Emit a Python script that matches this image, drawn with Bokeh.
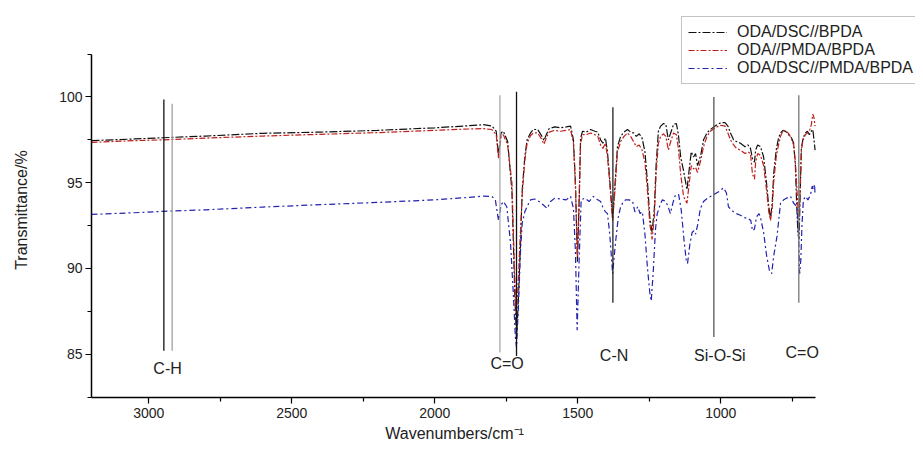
from bokeh.plotting import figure
from bokeh.models import Range1d, FixedTicker, Legend, LegendItem, ColumnDataSource
from bokeh.core.properties import value
from bokeh.embed import file_html
from bokeh.resources import INLINE

# ---------------- data ----------------
series_names = ["ODA/DSC//BPDA", "ODA//PMDA/BPDA", "ODA/DSC//PMDA/BPDA"]

wn_black = [3200, 3050, 2950, 2800, 2600, 2400, 2200, 2000, 1900, 1830, 1800, 1785, 1777, 1768, 1760,
            1745, 1730, 1720, 1714, 1708, 1700, 1694, 1685, 1677, 1665, 1655, 1640, 1625, 1618, 1610,
            1600, 1580, 1560, 1540, 1525, 1515, 1508, 1501, 1495, 1490, 1483, 1470, 1455, 1440, 1430,
            1420, 1412, 1403, 1396, 1388, 1378, 1370, 1361, 1350, 1338, 1326, 1315, 1305, 1295, 1285,
            1275, 1265, 1256, 1248, 1240, 1232, 1226, 1218, 1210, 1200, 1192, 1183, 1175, 1165, 1155,
            1148, 1140, 1130, 1118, 1110, 1103, 1095, 1088, 1081, 1070, 1060, 1048, 1036, 1020, 1000,
            985, 975, 966, 955, 945, 931, 915, 905, 896, 889, 882, 878, 871, 861, 850, 840, 832, 826,
            820, 815, 806, 798, 791, 782, 774, 767, 760, 752, 745, 739, 735, 730, 726, 722, 718, 712,
            704, 697, 690, 683, 678, 674, 670]
t_black = [97.45, 97.55, 97.62, 97.72, 97.88, 97.95, 98.05, 98.2, 98.3, 98.38, 98.3, 98.0, 96.6, 97.9, 98.0,
           97.4, 94.5, 88.5, 85.9, 88.0, 91.5, 94.6, 96.5, 97.5, 97.9, 98.1, 98.1, 97.7, 97.45, 97.8,
           98.15, 98.25, 98.2, 98.25, 98.3, 97.5, 95.0, 90.4, 94.0, 97.6, 98.0, 97.95, 98.1, 98.0, 97.95,
           97.5, 97.3, 97.6, 96.8, 95.2, 92.9, 94.8, 97.1, 97.7, 97.95, 98.1, 97.95, 97.9, 97.7, 97.85,
           97.6, 96.8, 95.0, 93.0, 92.1, 93.5, 96.0, 98.0, 98.3, 98.45, 98.4, 97.5, 97.9, 98.4, 98.45,
           97.8, 96.5, 95.7, 94.6, 95.8, 96.8, 96.5, 96.7, 96.0, 96.6, 97.5, 97.9, 98.1, 98.3, 98.5,
           98.5, 98.3, 97.9, 97.5, 97.4, 97.3, 97.1, 97.2, 97.0, 96.4, 96.2, 96.9, 97.2, 97.1, 96.5,
           95.0, 93.6, 92.9, 93.8, 95.5, 96.9, 97.6, 97.9, 98.05, 98.0, 97.9, 97.75, 97.6, 97.3, 96.0,
           94.0, 92.0, 91.7, 94.5, 97.0, 97.6, 97.9, 98.0, 97.8, 98.0, 98.1, 97.5, 96.9]

wn_red = [3200, 3050, 2950, 2800, 2600, 2400, 2200, 2000, 1900, 1830, 1800, 1785, 1777, 1768, 1760,
          1745, 1730, 1722, 1716, 1710, 1702, 1694, 1685, 1677, 1665, 1655, 1640, 1625, 1618, 1610,
          1600, 1580, 1560, 1540, 1525, 1515, 1508, 1501, 1495, 1490, 1483, 1470, 1455, 1440, 1430,
          1420, 1412, 1403, 1396, 1388, 1378, 1370, 1361, 1350, 1338, 1326, 1315, 1305, 1295, 1285,
          1275, 1265, 1256, 1248, 1240, 1232, 1226, 1218, 1210, 1200, 1192, 1183, 1175, 1165, 1155,
          1148, 1140, 1130, 1118, 1110, 1103, 1095, 1088, 1081, 1070, 1060, 1048, 1036, 1020, 1000,
          985, 975, 966, 955, 945, 931, 915, 905, 896, 889, 882, 878, 871, 861, 850, 840, 832, 826,
          820, 815, 806, 798, 791, 782, 774, 767, 760, 752, 745, 739, 735, 730, 726, 722, 718, 712,
          704, 697, 690, 683, 678, 674, 670]
t_red = [97.35, 97.45, 97.5, 97.6, 97.72, 97.82, 97.92, 98.05, 98.12, 98.15, 98.1, 97.8, 96.4, 97.7, 97.8,
         97.2, 95.0, 90.5, 87.3, 88.5, 91.5, 94.3, 96.3, 97.3, 97.75, 97.9, 97.9, 97.5, 97.25, 97.6,
         97.95, 98.05, 98.0, 98.05, 98.1, 97.3, 94.8, 90.7, 93.8, 97.3, 97.8, 97.8, 97.9, 97.8, 97.7,
         97.2, 97.0, 97.3, 96.5, 95.0, 92.8, 94.5, 96.8, 97.4, 97.7, 97.9, 97.7, 97.4, 97.1, 97.2,
         96.9, 96.2, 94.5, 92.6, 91.7, 93.0, 95.5, 97.3, 97.7, 97.85, 97.7, 96.9, 97.4, 97.9, 97.8,
         97.0, 95.5, 94.2, 93.8, 95.0, 96.0, 95.8, 95.9, 95.6, 96.3, 97.1, 97.7, 98.0, 98.2, 98.35,
         98.3, 97.9, 97.5, 97.2, 97.0, 96.9, 96.7, 96.8, 96.7, 95.5, 95.2, 96.2, 96.7, 96.6, 96.0,
         94.6, 93.3, 92.8, 93.5, 95.0, 96.5, 97.2, 97.7, 98.05, 98.0, 97.95, 97.8, 97.5, 97.2, 96.2,
         95.0, 93.5, 93.0, 94.8, 96.9, 97.5, 97.8, 97.9, 98.0, 98.4, 99.0, 98.8, 98.3]

wn_blue = [3200, 3050, 2950, 2800, 2600, 2400, 2200, 2000, 1900, 1830, 1800, 1788, 1777, 1768, 1760,
           1748, 1735, 1725, 1718, 1714, 1708, 1700, 1694, 1685, 1677, 1665, 1650, 1635, 1620, 1607,
           1595, 1580, 1560, 1540, 1525, 1515, 1508, 1502, 1495, 1488, 1475, 1460, 1445, 1430, 1420,
           1413, 1403, 1396, 1388, 1378, 1368, 1358, 1350, 1340, 1333, 1320, 1308, 1300, 1290, 1282,
           1274, 1265, 1256, 1248, 1243, 1236, 1228, 1222, 1212, 1204, 1192, 1184, 1176, 1166, 1158,
           1147, 1138, 1128, 1120, 1116, 1108, 1100, 1094, 1088, 1080, 1071, 1060, 1046, 1025, 1005,
           990, 980, 973, 962, 955, 945, 931, 915, 906, 895, 889, 882, 875, 866, 860, 850, 840, 830,
           822, 815, 803, 791, 780, 770, 756, 745, 733, 728, 724, 720, 716, 711, 703, 695, 686, 680,
           676, 672, 670]
t_blue = [93.15, 93.25, 93.33, 93.42, 93.58, 93.72, 93.85, 94.0, 94.12, 94.22, 94.2, 94.0, 92.8, 93.7, 93.9,
          93.6, 91.5, 88.5, 86.0, 85.4, 87.5, 91.0, 92.65, 93.3, 93.6, 94.0, 94.05, 93.9, 93.7, 93.5,
          93.9, 94.1, 94.05, 94.0, 94.2, 93.5, 91.0, 86.4, 90.5, 94.0, 94.1, 93.9, 94.2, 94.0, 93.9,
          93.6, 93.3, 93.2, 92.0, 89.7, 91.5, 93.0, 93.6, 93.9, 94.0, 94.0, 93.9, 93.3, 93.6, 93.2,
          93.3, 92.0, 90.0, 88.6, 88.1, 89.8, 92.3, 93.2, 93.7, 94.0, 93.9, 93.6, 93.2, 93.9, 94.3,
          94.3, 93.4, 91.6, 90.4, 90.3, 91.4, 92.1, 92.2, 92.0, 92.6, 93.5, 93.9, 94.1, 94.3, 94.5,
          94.7, 94.4, 93.6, 93.4, 93.3, 93.2, 93.1, 92.95, 92.95, 92.8, 92.2, 92.3, 93.0, 93.2, 92.9,
          92.1, 90.8, 89.9, 89.7, 90.7, 91.9, 93.8, 94.0, 94.1, 94.2, 93.8, 93.6, 92.0, 89.7, 90.5,
          92.5, 94.0, 94.2, 94.0, 94.3, 94.8, 94.6, 94.9, 94.3]

# band markers (vertical reference lines)
marker_wn = [2947, 2918, 1772, 1714, 1377, 1024, 727]
marker_top = [99.85, 99.6, 100.1, 100.3, 99.4, 100.0, 100.1]
marker_bottom = [85.2, 85.2, 85.1, 84.9, 88.0, 86.0, 88.0]
marker_color = ["#111111", "#a0a0a0", "#a8a8a8", "#111111", "#222222", "#555555", "#777777"]

band_labels = ["C-H", "C=O", "C-N", "Si-O-Si", "C=O"]
band_label_wn = [2934, 1747, 1373, 1003, 715]
band_label_t = [84.15, 84.45, 84.9, 84.9, 85.1]

x_major = [3000, 2500, 2000, 1500, 1000]
x_minor = [2750, 2250, 1750, 1250, 750]
y_major = [85, 90, 95, 100]
y_minor = [82.5, 87.5, 92.5, 97.5, 102.5]
x_axis_span = (670, 3200)
y_axis_span = (82.5, 102.5)

# ---------------- figure ----------------
FONT = "Liberation Sans"
# the frame extends above and right of the drawn axes so the legend (which
# sits partly outside the axes box in the original) is not clipped
p = figure(width=915, height=444, output_backend="svg", toolbar_location=None,
           x_range=Range1d(3200, 319), y_range=Range1d(82.48, 105.62),
           min_border_left=91, min_border_right=0, min_border_top=0, min_border_bottom=46)
p.background_fill_color = "white"
p.border_fill_color = "white"
p.outline_line_color = None
p.grid.visible = False

for ax in (p.xaxis[0], p.yaxis[0]):
    ax.axis_line_width = 1.5
    ax.axis_line_color = "black"
    ax.major_tick_in = 0
    ax.major_tick_out = 6
    ax.minor_tick_in = 0
    ax.minor_tick_out = 4
    ax.major_tick_line_width = 1.2
    ax.minor_tick_line_width = 1.2
    ax.major_label_text_font = FONT
    ax.major_label_text_font_size = "14px"
    ax.major_label_text_color = "#222222"
    ax.axis_label_text_font = FONT
    ax.axis_label_text_font_size = "16px"
    ax.axis_label_text_font_style = "normal"
    ax.axis_label_text_color = "#222222"

p.xaxis[0].bounds = x_axis_span
p.yaxis[0].bounds = y_axis_span
p.xaxis[0].ticker = FixedTicker(ticks=x_major, minor_ticks=x_minor)
p.yaxis[0].ticker = FixedTicker(ticks=y_major, minor_ticks=y_minor)
# trailing spaces re-centre the titles under the drawn (bounded) axes
p.xaxis[0].axis_label = "Wavenumbers/cm\u207b\u00b9" + " " * 22
p.yaxis[0].axis_label = "Transmittance/%" + " " * 5
p.xaxis[0].major_label_standoff = 4
p.xaxis[0].axis_label_standoff = 4
p.yaxis[0].major_label_standoff = 3
p.yaxis[0].axis_label_standoff = 26

src_b = ColumnDataSource(dict(x=wn_black, y=t_black))
src_r = ColumnDataSource(dict(x=wn_red, y=t_red))
src_u = ColumnDataSource(dict(x=wn_blue, y=t_blue))

r_b = p.line("x", "y", source=src_b, line_color="#111111", line_width=1.2, line_dash="8 2 2 2")
r_r = p.line("x", "y", source=src_r, line_color="#c0201c", line_width=1.2, line_dash="6 2 2 2")
r_u = p.line("x", "y", source=src_u, line_color="#2222b0", line_width=1.2, line_dash="6 3 2 3")

p.segment(x0=marker_wn, x1=marker_wn, y0=marker_bottom, y1=marker_top,
          line_color=marker_color, line_width=1.3)

p.text(x=band_label_wn, y=band_label_t, text=band_labels, text_align="center",
       text_baseline="middle", text_font=value(FONT), text_font_size="16px", text_color="#222222")

legend = Legend(items=[LegendItem(label=series_names[0], renderers=[r_b]),
                       LegendItem(label=series_names[1], renderers=[r_r]),
                       LegendItem(label=series_names[2], renderers=[r_u])],
                location=(590, 313), orientation="vertical",
                label_text_font=FONT, label_text_font_size="16px", label_text_color="#222222",
                glyph_width=39, glyph_height=18, label_height=18,
                label_standoff=10, spacing=0, padding=6, margin=0,
                border_line_color="#888888", border_line_width=1,
                background_fill_color="white", background_fill_alpha=0.0)
p.add_layout(legend, "center")

open("out.html", "w").write(file_html(p, INLINE))
